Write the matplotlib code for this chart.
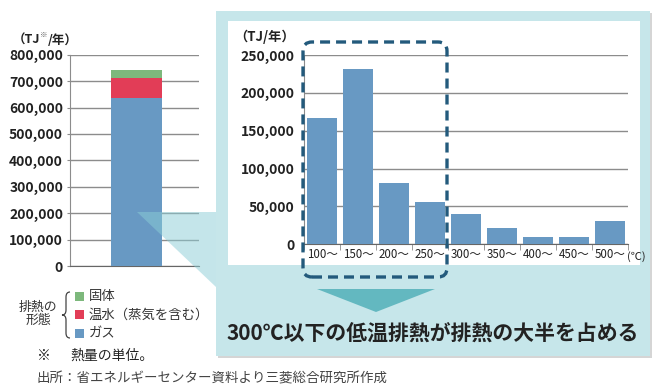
import matplotlib
matplotlib.use("Agg")
import matplotlib.pyplot as plt
from matplotlib.patches import Rectangle, FancyBboxPatch, Polygon, PathPatch
from matplotlib.path import Path
from matplotlib.transforms import IdentityTransform

plt.rcParams['font.family'] = ['Noto Sans CJK JP', 'DejaVu Sans']

# --- dane ---------------------------------------------------------------
forms = ["固体", "温水（蒸気を含む）", "ガス"]
form_values = [29000, 76000, 637000]          # TJ/年
form_colors = ["#7db87c", "#e23d57", "#6899c3"]

temp_labels = ["100～", "150～", "200～", "250～", "300～", "350～", "400～", "450～", "500～"]
temp_values = [166800, 231500, 81000, 55900, 40500, 21600, 9700, 9700, 31300]

left_ticks = list(range(0, 800001, 100000))
right_ticks = list(range(0, 250001, 50000))

W, H = 652, 385
fig = plt.figure(figsize=(W / 100, H / 100), dpi=100)
PX = IdentityTransform()


def fx(x):
    return x / W


def fy(y):
    return 1 - y / H


def rect_px(x0, y0, x1, y1, **kw):
    """Prostokąt w pikselach (y od góry)."""
    return Rectangle((x0, H - y1), x1 - x0, y1 - y0, transform=PX, **kw)


GRID = "#8c8c8c"

# --- tło panelu powiększenia --------------------------------------------
fig.add_artist(rect_px(218, 13, 652, 358, facecolor="#b9b9b9", edgecolor="none", alpha=0.6, zorder=-3))
fig.add_artist(rect_px(216, 11, 650, 356, facecolor="#c6e6ea", edgecolor="none", zorder=-2))
fig.add_artist(rect_px(228, 21, 640, 265, facecolor="white", edgecolor="none", zorder=-1))

# --- lewy wykres (słupek skumulowany) -----------------------------------
axl = fig.add_axes([fx(70), fy(266), fx(199) - fx(70), fy(54.7) - fy(266)])
axl.set_facecolor("none")
bottom = 0
for name, val, col in zip(forms[::-1], form_values[::-1], form_colors[::-1]):
    axl.bar(0, val, width=0.4, bottom=bottom, color=col, zorder=3)
    bottom += val
axl.set_xlim(-0.515, 0.485)
axl.set_ylim(0, 800000)
axl.set_yticks(left_ticks)
axl.set_yticklabels([f"{v:,}" for v in left_ticks], fontsize=10, fontweight="bold", color="#222222")
axl.set_xticks([])
axl.yaxis.grid(True, color=GRID, linewidth=1.0, zorder=1)
for s in ["top", "right"]:
    axl.spines[s].set_visible(False)
axl.spines["left"].set_color(GRID)
axl.spines["bottom"].set_color("#666666")
axl.tick_params(axis="y", length=2, color=GRID, pad=3)

fig.text(fx(13), fy(40), "（TJ", fontsize=9, fontweight="bold", va="center", ha="left", color="#222222")
fig.text(fx(40), fy(35), "※", fontsize=5.5, va="center", ha="left", color="#555555")
fig.text(fx(47.5), fy(40), "/年）", fontsize=9, fontweight="bold", va="center", ha="left", color="#222222")

# --- klin łączący ---------------------------------------------------------
wedge = Polygon([(137, H - 212), (216, H - 212), (216, H - 287)], closed=True, transform=PX,
                facecolor="#8bcdd6", edgecolor="none", alpha=0.5, zorder=1)
fig.add_artist(wedge)

# --- prawy wykres (rozkład temperatur) -----------------------------------
axr = fig.add_axes([fx(304), fy(244.3), fx(628) - fx(304), fy(55) - fy(244.3)])
axr.set_facecolor("none")
xs = list(range(len(temp_labels)))
axr.bar(xs, temp_values, width=0.82, color=form_colors[2], zorder=3)
axr.set_xlim(-0.5, len(temp_labels) - 0.5)
axr.set_ylim(0, 250000)
axr.set_yticks(right_ticks)
axr.set_yticklabels([f"{v:,}" for v in right_ticks], fontsize=10, fontweight="bold", color="#222222")
axr.set_xticks(xs)
axr.set_xticklabels(temp_labels, fontsize=8.3, color="#222222")
axr.set_xticks([x - 0.5 for x in range(len(temp_labels) + 1)], minor=True)
axr.tick_params(axis="x", which="major", length=0, pad=3)
axr.tick_params(axis="x", which="minor", length=4, color=GRID)
axr.tick_params(axis="y", length=0, pad=7)
axr.yaxis.grid(True, color=GRID, linewidth=1.0, zorder=1)
for s in ["top", "right"]:
    axr.spines[s].set_visible(False)
axr.spines["left"].set_color(GRID)
axr.spines["bottom"].set_color("#666666")

fig.text(fx(234), fy(37), "（TJ/年）", fontsize=9.5, fontweight="bold", va="center", ha="left", color="#222222")
fig.text(fx(627), fy(257), "(℃)", fontsize=8, va="center", ha="left", color="#222222")

# --- obramowanie przerywane i strzałka ------------------------------------
box = FancyBboxPatch((303, H - 277), 144, 235, boxstyle="round,pad=0,rounding_size=9",
                     transform=PX, facecolor="none", edgecolor="#235a7c", linewidth=2.4,
                     linestyle=(0, (3, 1.8)), zorder=6)
fig.add_artist(box)
tri = Polygon([(317, H - 289), (435, H - 289), (376, H - 312)], closed=True, transform=PX,
              facecolor="#63b8c0", edgecolor="none", zorder=6)
fig.add_artist(tri)

fig.text(fx(433), fy(334), "300℃以下の低温排熱が排熱の大半を占める", fontsize=15, fontweight="bold",
         ha="center", va="center", color="#222222", zorder=7)

# --- legenda --------------------------------------------------------------
fig.text(fx(38), fy(314), "排熱の\n形態", fontsize=9.3, ha="center", va="center", color="#333333",
         linespacing=1.05)
brace = Path([(70, H - 292), (66, H - 292), (66, H - 297), (66, H - 310), (66, H - 315), (62, H - 315),
              (66, H - 315), (66, H - 320), (66, H - 333), (66, H - 338), (70, H - 338)],
             [Path.MOVETO, Path.CURVE3, Path.CURVE3, Path.LINETO, Path.CURVE3, Path.CURVE3,
              Path.CURVE3, Path.CURVE3, Path.LINETO, Path.CURVE3, Path.CURVE3])
fig.add_artist(PathPatch(brace, transform=PX, facecolor="none", edgecolor="#444444", linewidth=0.9))
for i, (name, col) in enumerate(zip(forms, form_colors)):
    yc = 296 + i * 18.5
    fig.add_artist(rect_px(75, yc - 4.5, 84, yc + 4.5, facecolor=col, edgecolor="none"))
    fig.text(fx(89), fy(yc), name, fontsize=9.6, ha="left", va="center", color="#333333")

fig.text(fx(37), fy(356), "※", fontsize=10, ha="left", va="center", color="#222222")
fig.text(fx(70), fy(356), "熱量の単位。", fontsize=10, ha="left", va="center", color="#222222")
fig.text(fx(37), fy(378), "出所：省エネルギーセンター資料より三菱総合研究所作成", fontsize=9.7,
         ha="left", va="center", color="#444444")

fig.savefig("out.png", dpi=100)
